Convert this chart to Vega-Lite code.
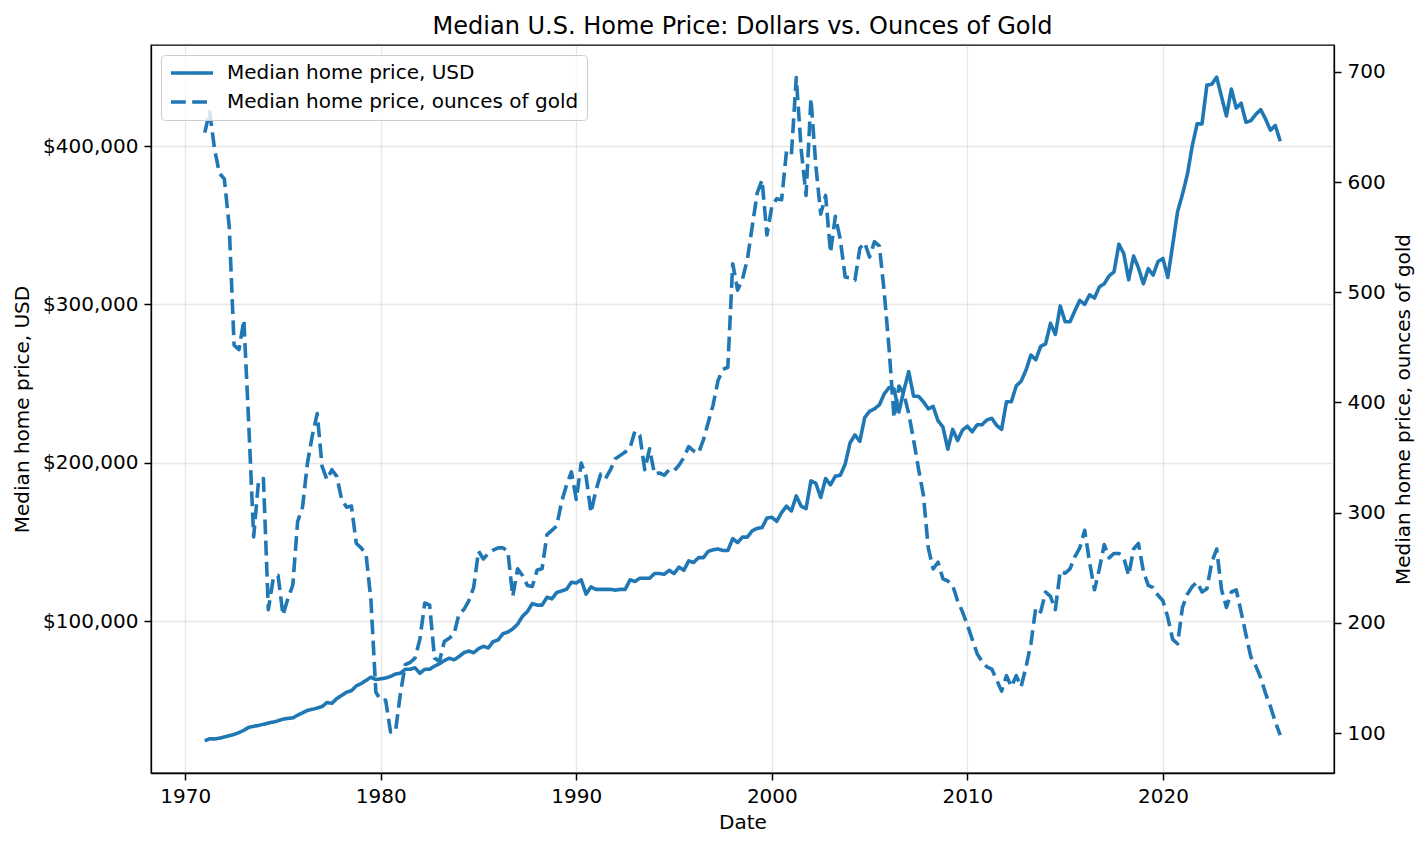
{
  "$schema": "https://vega.github.io/schema/vega-lite/v6.json",
  "width": 1183,
  "height": 728,
  "autosize": {"type": "none"},
  "padding": {"left": 151, "top": 45, "right": 94, "bottom": 75},
  "background": "white",
  "title": {"text": "Median U.S. Home Price: Dollars vs. Ounces of Gold", "font": "DejaVu Sans", "fontSize": 24, "fontWeight": "normal", "color": "black", "anchor": "middle", "offset": 6},
  "config": {
    "view": {"stroke": "black", "strokeWidth": 1.3},
    "axis": {"labelFont": "DejaVu Sans", "titleFont": "DejaVu Sans", "labelFontSize": 20, "titleFontSize": 20, "titleFontWeight": "normal", "labelColor": "black", "titleColor": "black", "domainColor": "black", "tickColor": "black", "domainWidth": 1.3, "tickWidth": 1.5, "tickSize": 7, "labelPadding": 6, "gridColor": "#b0b0b0", "gridOpacity": 0.3, "gridWidth": 1.3, "labelFlush": false, "labelOverlap": false}
  },
  "data": {"values": [
    {"t":1971.00,"usd":24400,"gold":645},{"t":1971.25,"usd":25600,"gold":664},{"t":1971.50,"usd":25500,"gold":630},{"t":1971.75,"usd":26000,"gold":608},
    {"t":1972.00,"usd":26800,"gold":603},{"t":1972.25,"usd":27500,"gold":560},{"t":1972.50,"usd":28400,"gold":452},{"t":1972.75,"usd":29500,"gold":448},
    {"t":1973.00,"usd":31000,"gold":475},{"t":1973.25,"usd":32800,"gold":380},{"t":1973.50,"usd":33500,"gold":278},{"t":1973.75,"usd":34000,"gold":329},
    {"t":1974.00,"usd":34800,"gold":331},{"t":1974.25,"usd":35500,"gold":212},{"t":1974.50,"usd":36200,"gold":240},{"t":1974.75,"usd":37000,"gold":243},
    {"t":1975.00,"usd":38000,"gold":207},{"t":1975.25,"usd":38500,"gold":222},{"t":1975.50,"usd":38800,"gold":234},{"t":1975.75,"usd":40500,"gold":292},
    {"t":1976.00,"usd":42000,"gold":305},{"t":1976.25,"usd":43500,"gold":345},{"t":1976.50,"usd":44200,"gold":370},{"t":1976.75,"usd":45000,"gold":390},
    {"t":1977.00,"usd":46000,"gold":342},{"t":1977.25,"usd":48500,"gold":330},{"t":1977.50,"usd":48000,"gold":339},{"t":1977.75,"usd":51000,"gold":333},
    {"t":1978.00,"usd":53000,"gold":312},{"t":1978.25,"usd":55000,"gold":305},{"t":1978.50,"usd":56000,"gold":306},{"t":1978.75,"usd":59000,"gold":272},
    {"t":1979.00,"usd":60500,"gold":268},{"t":1979.25,"usd":62500,"gold":262},{"t":1979.50,"usd":64500,"gold":220},{"t":1979.75,"usd":63000,"gold":137},
    {"t":1980.00,"usd":63500,"gold":130},{"t":1980.25,"usd":64000,"gold":130},{"t":1980.50,"usd":65000,"gold":101},{"t":1980.75,"usd":66500,"gold":101},
    {"t":1981.00,"usd":67000,"gold":135},{"t":1981.25,"usd":69500,"gold":162},{"t":1981.50,"usd":69500,"gold":164},{"t":1981.75,"usd":70500,"gold":168},
    {"t":1982.00,"usd":67000,"gold":185},{"t":1982.25,"usd":69500,"gold":218},{"t":1982.50,"usd":69500,"gold":216},{"t":1982.75,"usd":71500,"gold":168},
    {"t":1983.00,"usd":73000,"gold":165},{"t":1983.25,"usd":75000,"gold":183},{"t":1983.50,"usd":76500,"gold":186},{"t":1983.75,"usd":75500,"gold":190},
    {"t":1984.00,"usd":77500,"gold":208},{"t":1984.25,"usd":80000,"gold":212},{"t":1984.50,"usd":81000,"gold":220},{"t":1984.75,"usd":80000,"gold":232},
    {"t":1985.00,"usd":82500,"gold":265},{"t":1985.25,"usd":84000,"gold":258},{"t":1985.50,"usd":83000,"gold":263},{"t":1985.75,"usd":87000,"gold":266},
    {"t":1986.00,"usd":88000,"gold":268},{"t":1986.25,"usd":92000,"gold":268},{"t":1986.50,"usd":93000,"gold":265},{"t":1986.75,"usd":95000,"gold":224},
    {"t":1987.00,"usd":98000,"gold":249},{"t":1987.25,"usd":103000,"gold":243},{"t":1987.50,"usd":106000,"gold":234},{"t":1987.75,"usd":111000,"gold":233},
    {"t":1988.00,"usd":110000,"gold":248},{"t":1988.25,"usd":110000,"gold":249},{"t":1988.50,"usd":115000,"gold":280},{"t":1988.75,"usd":114000,"gold":284},
    {"t":1989.00,"usd":118000,"gold":288},{"t":1989.25,"usd":119000,"gold":310},{"t":1989.50,"usd":120000,"gold":325},{"t":1989.75,"usd":124500,"gold":337},
    {"t":1990.00,"usd":124000,"gold":312},{"t":1990.25,"usd":126000,"gold":345},{"t":1990.50,"usd":117000,"gold":333},{"t":1990.75,"usd":121500,"gold":300},
    {"t":1991.00,"usd":120000,"gold":320},{"t":1991.25,"usd":120000,"gold":335},{"t":1991.50,"usd":120000,"gold":331},{"t":1991.75,"usd":120000,"gold":339},
    {"t":1992.00,"usd":119500,"gold":349},{"t":1992.25,"usd":120000,"gold":352},{"t":1992.50,"usd":120000,"gold":355},{"t":1992.75,"usd":126000,"gold":359},
    {"t":1993.00,"usd":125000,"gold":374},{"t":1993.25,"usd":127000,"gold":370},{"t":1993.50,"usd":127000,"gold":339},{"t":1993.75,"usd":127000,"gold":358},
    {"t":1994.00,"usd":130000,"gold":335},{"t":1994.25,"usd":130000,"gold":336},{"t":1994.50,"usd":129500,"gold":334},{"t":1994.75,"usd":132000,"gold":339},
    {"t":1995.00,"usd":130000,"gold":338},{"t":1995.25,"usd":134000,"gold":343},{"t":1995.50,"usd":132000,"gold":350},{"t":1995.75,"usd":138000,"gold":360},
    {"t":1996.00,"usd":137000,"gold":356},{"t":1996.25,"usd":140000,"gold":354},{"t":1996.50,"usd":140000,"gold":366},{"t":1996.75,"usd":144000,"gold":382},
    {"t":1997.00,"usd":145000,"gold":398},{"t":1997.25,"usd":145500,"gold":420},{"t":1997.50,"usd":144500,"gold":430},{"t":1997.75,"usd":144500,"gold":432},
    {"t":1998.00,"usd":152000,"gold":526},{"t":1998.25,"usd":149500,"gold":502},{"t":1998.50,"usd":153000,"gold":512},{"t":1998.75,"usd":153000,"gold":530},
    {"t":1999.00,"usd":157000,"gold":560},{"t":1999.25,"usd":158500,"gold":590},{"t":1999.50,"usd":159000,"gold":602},{"t":1999.75,"usd":165000,"gold":552},
    {"t":2000.00,"usd":165500,"gold":578},{"t":2000.25,"usd":163000,"gold":585},{"t":2000.50,"usd":168500,"gold":584},{"t":2000.75,"usd":172500,"gold":628},
    {"t":2001.00,"usd":169500,"gold":625},{"t":2001.25,"usd":179000,"gold":695},{"t":2001.50,"usd":172500,"gold":630},{"t":2001.75,"usd":171000,"gold":588},
    {"t":2002.00,"usd":188500,"gold":676},{"t":2002.25,"usd":187000,"gold":615},{"t":2002.50,"usd":178000,"gold":571},{"t":2002.75,"usd":190000,"gold":588},
    {"t":2003.00,"usd":186000,"gold":536},{"t":2003.25,"usd":191500,"gold":569},{"t":2003.50,"usd":192000,"gold":548},{"t":2003.75,"usd":199000,"gold":514},
    {"t":2004.00,"usd":212500,"gold":513},{"t":2004.25,"usd":217500,"gold":511},{"t":2004.50,"usd":213500,"gold":540},{"t":2004.75,"usd":228500,"gold":545},
    {"t":2005.00,"usd":232500,"gold":532},{"t":2005.25,"usd":234000,"gold":546},{"t":2005.50,"usd":236500,"gold":542},{"t":2005.75,"usd":243500,"gold":500},
    {"t":2006.00,"usd":247500,"gold":448},{"t":2006.25,"usd":246500,"gold":386},{"t":2006.50,"usd":232000,"gold":415},{"t":2006.75,"usd":245500,"gold":408},
    {"t":2007.00,"usd":257500,"gold":390},{"t":2007.25,"usd":242000,"gold":366},{"t":2007.50,"usd":242000,"gold":340},{"t":2007.75,"usd":238500,"gold":316},
    {"t":2008.00,"usd":234000,"gold":268},{"t":2008.25,"usd":235500,"gold":249},{"t":2008.50,"usd":226500,"gold":255},{"t":2008.75,"usd":222500,"gold":240},
    {"t":2009.00,"usd":208500,"gold":238},{"t":2009.25,"usd":221000,"gold":234},{"t":2009.50,"usd":214000,"gold":220},{"t":2009.75,"usd":220500,"gold":210},
    {"t":2010.00,"usd":223000,"gold":198},{"t":2010.25,"usd":219500,"gold":185},{"t":2010.50,"usd":224000,"gold":172},{"t":2010.75,"usd":224000,"gold":165},
    {"t":2011.00,"usd":227000,"gold":160},{"t":2011.25,"usd":228000,"gold":158},{"t":2011.50,"usd":223500,"gold":148},{"t":2011.75,"usd":221000,"gold":138},
    {"t":2012.00,"usd":238500,"gold":152},{"t":2012.25,"usd":238500,"gold":142},{"t":2012.50,"usd":248500,"gold":152},{"t":2012.75,"usd":251500,"gold":142},
    {"t":2013.00,"usd":258500,"gold":160},{"t":2013.25,"usd":268000,"gold":181},{"t":2013.50,"usd":265000,"gold":214},{"t":2013.75,"usd":273500,"gold":210},
    {"t":2014.00,"usd":275000,"gold":228},{"t":2014.25,"usd":288000,"gold":224},{"t":2014.50,"usd":281000,"gold":212},{"t":2014.75,"usd":299000,"gold":247},
    {"t":2015.00,"usd":289000,"gold":245},{"t":2015.25,"usd":289000,"gold":249},{"t":2015.50,"usd":296000,"gold":260},{"t":2015.75,"usd":302500,"gold":268},
    {"t":2016.00,"usd":300000,"gold":284},{"t":2016.25,"usd":306000,"gold":255},{"t":2016.50,"usd":304000,"gold":230},{"t":2016.75,"usd":311000,"gold":249},
    {"t":2017.00,"usd":313000,"gold":271},{"t":2017.25,"usd":318000,"gold":259},{"t":2017.50,"usd":320500,"gold":263},{"t":2017.75,"usd":338000,"gold":263},
    {"t":2018.00,"usd":332000,"gold":259},{"t":2018.25,"usd":315500,"gold":243},{"t":2018.50,"usd":330500,"gold":267},{"t":2018.75,"usd":323000,"gold":272},
    {"t":2019.00,"usd":313000,"gold":247},{"t":2019.25,"usd":322500,"gold":234},{"t":2019.50,"usd":318500,"gold":232},{"t":2019.75,"usd":327000,"gold":225},
    {"t":2020.00,"usd":329000,"gold":220},{"t":2020.25,"usd":317000,"gold":205},{"t":2020.50,"usd":337500,"gold":185},{"t":2020.75,"usd":358500,"gold":181},
    {"t":2021.00,"usd":369500,"gold":214},{"t":2021.25,"usd":382000,"gold":226},{"t":2021.50,"usd":400000,"gold":233},{"t":2021.75,"usd":414000,"gold":237},
    {"t":2022.00,"usd":414000,"gold":228},{"t":2022.25,"usd":438500,"gold":231},{"t":2022.50,"usd":439000,"gold":255},{"t":2022.75,"usd":443500,"gold":267},
    {"t":2023.00,"usd":431000,"gold":230},{"t":2023.25,"usd":419000,"gold":214},{"t":2023.50,"usd":436000,"gold":228},{"t":2023.75,"usd":424000,"gold":230},
    {"t":2024.00,"usd":427000,"gold":210},{"t":2024.25,"usd":415000,"gold":189},{"t":2024.50,"usd":416000,"gold":169},{"t":2024.75,"usd":420000,"gold":161},
    {"t":2025.00,"usd":423000,"gold":150},{"t":2025.25,"usd":417000,"gold":136},{"t":2025.50,"usd":410000,"gold":124},{"t":2025.75,"usd":413000,"gold":110},
    {"t":2026.00,"usd":403000,"gold":98}
  ]},
  "encoding": {
    "x": {"field": "t", "type": "quantitative", "scale": {"domain": [1968.25, 2028.75], "nice": false, "zero": false},
      "axis": {"title": "Date", "values": [1970, 1980, 1990, 2000, 2010, 2020], "format": "d", "grid": true, "titlePadding": 6}}
  },
  "layer": [
    {
      "mark": {"type": "line", "color": "#1f77b4", "strokeWidth": 3.6, "strokeCap": "butt", "strokeJoin": "round", "clip": true},
      "encoding": {
        "y": {"field": "usd", "type": "quantitative", "scale": {"domain": [4000, 463800], "nice": false, "zero": false},
          "axis": {"orient": "left", "title": "Median home price, USD", "values": [100000, 200000, 300000, 400000], "format": "$,d", "grid": true, "titlePadding": 10}},
        "strokeDash": {"datum": "Median home price, USD", "type": "nominal",
          "scale": {"domain": ["Median home price, USD", "Median home price, ounces of gold"], "range": [[1, 0], [14.8, 6.4]]},
          "legend": {"title": null, "orient": "none", "legendX": 10, "legendY": 10, "symbolType": "stroke", "symbolStrokeColor": "#1f77b4", "symbolStrokeWidth": 3.6, "symbolSize": 1764, "clipHeight": 20, "labelFont": "DejaVu Sans", "labelFontSize": 20, "labelColor": "black", "labelOffset": 12, "labelLimit": 0, "rowPadding": 9, "padding": 8, "fillColor": "rgba(255,255,255,0.8)", "strokeColor": "#cccccc", "cornerRadius": 4}}
      }
    },
    {
      "mark": {"type": "line", "color": "#1f77b4", "strokeWidth": 3.6, "strokeCap": "butt", "strokeJoin": "round", "clip": true},
      "encoding": {
        "y": {"field": "gold", "type": "quantitative", "scale": {"domain": [63.7, 724.5], "nice": false, "zero": false},
          "axis": {"orient": "right", "title": "Median home price, ounces of gold", "titleAngle": -90, "titleBaseline": "top", "values": [100, 200, 300, 400, 500, 600, 700], "grid": false, "titlePadding": 8}},
        "strokeDash": {"datum": "Median home price, ounces of gold", "type": "nominal"}
      }
    }
  ],
  "resolve": {"scale": {"y": "independent"}}
}
